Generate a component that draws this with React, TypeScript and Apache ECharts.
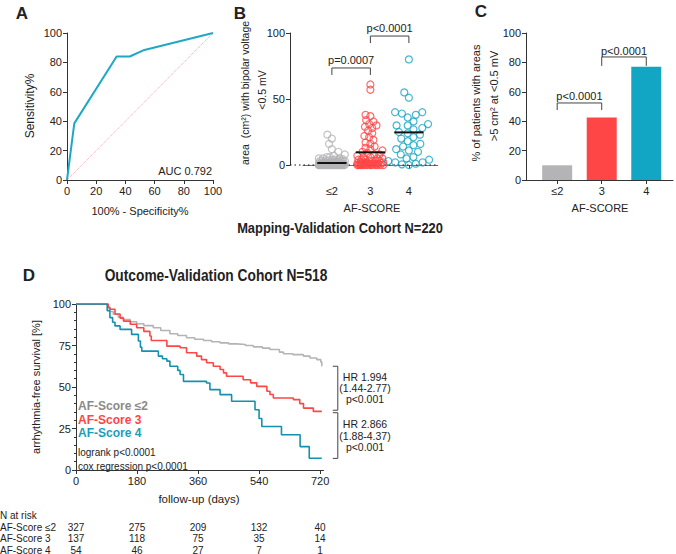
import React, { useEffect, useRef } from "react";
import * as echarts from "echarts";

const FONT = "'Liberation Sans', Arial, sans-serif";

// Panel A – ROC
const rocX = [0, 5, 34, 43, 53, 100];
const rocY = [0, 38.5, 84, 84, 88.5, 100];
const aucLabel = "AUC 0.792";

// Panel B – low-voltage area by AF-score
const scoreCategories = ["≤2", "3", "4"];
const areaScoreLow = [23, 20, 16, 12, 10, 8, 7, 6, 6, 5, 5, 5, 4.5, 4, 4, 4, 3.5, 3.5, 3, 3, 3, 3, 2.5, 2.5, 2.5, 2, 2, 2, 2, 2, 1.5, 1.5, 1.5, 1.5, 1, 1, 1, 1, 1, 1, 0.8, 0.8, 0.6, 0.5, 0.5, 0.5, 0.4, 0.3, 0.3, 0.2, 0.2, 0.1, 0, 0, 0, 0, 0, 0, 0, 0, 0, 0, 0, 0, 0, 0, 0, 0, 0, 0, 0, 0, 0, 0, 0, 0, 0, 0, 0, 0];
const areaScore3 = [61, 57, 38, 37, 34, 33, 31, 30, 29, 28, 26, 24, 22, 21, 19, 17, 16, 14, 13, 12, 11, 10, 9, 8, 8, 7, 6, 6, 5, 5, 4, 4, 4, 3, 3, 3, 3, 2, 2, 2, 2, 2, 1.5, 1.5, 1, 1, 1, 1, 1, 0.5, 0.5, 0.5, 0.5, 0, 0, 0, 0, 0, 0, 0, 0, 0, 0, 0, 0];
const areaScore4 = [80, 55, 51, 40, 40, 39, 38, 36, 33, 31, 30, 30, 28, 27, 25, 24, 23, 21, 20, 18, 16, 15, 14, 12, 11, 10, 8, 6, 5, 4, 3, 2, 2, 1, 0.5, 0];
const areaMeans = [1.5, 9.6, 24.7];
const areaPValues = ["p=0.0007", "p<0.0001"];

// Panel C – % patients with areas > 5 cm2
const pctPatients = [10, 42.5, 77];
const pctPValues = ["p<0.0001", "p<0.0001"];

// Panel D – Kaplan-Meier
const kmScoreLow = [[0, 100], [90, 100], [95, 97.5], [100, 95.5], [110, 93.8], [125, 92], [140, 90.7], [160, 89.3], [179, 88.1], [200, 87], [228, 85.7], [250, 84], [277, 82.1], [300, 81], [326, 79.7], [350, 78.8], [376, 78], [400, 77.3], [425, 76.6], [450, 76], [474, 75.6], [500, 75], [523, 74.2], [550, 73.4], [572, 72.6], [600, 71], [612, 70], [640, 69.5], [671, 68.6], [690, 67.5], [710, 66.5], [722, 65], [725, 62.5]];
const kmScore3 = [[0, 100], [88, 100], [95, 98], [100, 96.8], [115, 94], [130, 91.5], [140, 89.7], [160, 87.8], [179, 85.7], [200, 83.5], [218, 80.7], [222, 78], [268, 74.6], [307, 73.6], [326, 70.6], [356, 68.6], [370, 66.5], [385, 64.6], [405, 62.5], [425, 60.5], [435, 58.5], [444, 56.5], [493, 54.4], [515, 52.5], [533, 50.4], [563, 47.4], [572, 45.5], [582, 43.4], [641, 42.4], [660, 40], [671, 37.3], [700, 35.3], [725, 35.3]];
const kmScore4 = [[0, 100], [88, 100], [92, 96], [100, 91.8], [108, 89], [115, 86.8], [130, 84.7], [164, 81.7], [184, 77.7], [190, 74], [194, 71.6], [243, 68.6], [255, 67], [268, 65.6], [277, 62.5], [300, 60], [307, 57.5], [317, 53.4], [385, 52.4], [395, 48.4], [425, 45.4], [459, 41.4], [528, 36.3], [540, 31], [548, 26.2], [606, 21.2], [661, 14.1], [688, 7.1], [725, 7.1]];
const kmTicks = [0, 180, 360, 540, 720];
const kmLegend = ["AF-Score ≤2", "AF-Score 3", "AF-Score 4"];
const hrText1 = ["HR 1.994", "(1.44-2.77)", "p<0.001"];
const hrText2 = ["HR 2.866", "(1.88-4.37)", "p<0.001"];
const hrRanges = [[62.5, 36], [34.5, 7]];
const riskTimes = [0, 180, 360, 540, 720];
const riskScoreLow = [327, 275, 209, 132, 40];
const riskScore3 = [137, 118, 75, 35, 14];
const riskScore4 = [54, 46, 27, 7, 1];

const GRAY = "#b4b4b6";
const RED = "#ff4646";
const TEAL = "#17a5c3";
const TEAL_DARK = "#1590b0";
const AX = "#333";

// deterministic beeswarm layout (pixel offsets)
function swarm(values: number[], pxPerUnit: number, d: number, maxHalf: number): number[] {
  const order = values.map((_, i) => i).sort((a, b) => values[a] - values[b]);
  const placed: { x: number; y: number }[] = [];
  const off = new Array(values.length).fill(0);
  for (const i of order) {
    const y = values[i] * pxPerUnit;
    const near = placed.filter((p) => Math.abs(p.y - y) < d);
    const cands = [0];
    for (const p of near) {
      const dx = Math.sqrt(d * d - (p.y - y) * (p.y - y));
      cands.push(p.x + dx, p.x - dx);
    }
    cands.sort((a, b) => Math.abs(a) - Math.abs(b) || a - b);
    let chosen: number | null = null;
    for (const c of cands) {
      if (Math.abs(c) > maxHalf + 1e-6) continue;
      if (near.every((p) => (p.x - c) ** 2 + (p.y - y) ** 2 >= d * d - 1e-6)) {
        chosen = c;
        break;
      }
    }
    if (chosen === null) {
      let best = 0;
      let bestD = -1;
      for (let k = -maxHalf; k <= maxHalf; k += 1) {
        const md = Math.min(...near.map((p) => Math.hypot(p.x - k, p.y - y)));
        if (md > bestD + 1e-6) {
          bestD = md;
          best = k;
        }
      }
      chosen = best;
    }
    placed.push({ x: chosen, y });
    off[i] = chosen;
  }
  return off;
}

const axisBase = {
  axisLine: { show: true, lineStyle: { color: AX, width: 1 } },
  axisTick: { show: true, inside: false, length: 4, lineStyle: { color: AX, width: 1 } },
  axisLabel: { color: "#222", fontSize: 11, fontFamily: FONT, margin: 5 },
  splitLine: { show: false },
};

export default function App() {
  const ref = useRef<HTMLDivElement>(null);
  useEffect(() => {
    if (!ref.current) return;
    const chart = echarts.init(ref.current, null, { renderer: "svg" });

    const bPxPerUnitX = 38.5;
    const bPxPerUnitY = 1.32;
    const groups = [areaScoreLow, areaScore3, areaScore4];
    const groupColors = [GRAY, RED, TEAL];
    const maxHalves = [13, 13, 21];
    const spacing = [6, 5, 7];
    const scatterSeries = groups.map((vals, gi) => {
      const off = swarm(vals, bPxPerUnitY, spacing[gi], maxHalves[gi]);
      return {
        type: "scatter",
        xAxisIndex: 1,
        yAxisIndex: 1,
        symbol: "circle",
        symbolSize: 7,
        itemStyle: { color: "rgba(0,0,0,0)", borderColor: groupColors[gi], borderWidth: 1.2 },
        data: vals.map((v, i) => [gi + 1 + off[i] / bPxPerUnitX, v]),
        z: 3,
      };
    });
    const meanSeries = areaMeans.map((m, gi) => ({
      type: "line",
      xAxisIndex: 1,
      yAxisIndex: 1,
      symbol: "none",
      lineStyle: { color: "#111", width: 2 },
      data: [[gi + 1 - 0.38, m], [gi + 1 + 0.38, m]],
      z: 5,
    }));
    const bracket = (xi: number, yi: number, a: number, b: number, top: number, low: number) => ({
      type: "line",
      xAxisIndex: xi,
      yAxisIndex: yi,
      symbol: "none",
      lineStyle: { color: "#444", width: 1 },
      data: [[a, low], [a, top], [b, top], [b, low]],
    });

    const kmLine = (data: number[][], color: string) => ({
      type: "line",
      xAxisIndex: 3,
      yAxisIndex: 3,
      step: "end",
      symbol: "none",
      lineStyle: { color, width: 1.6 },
      data,
    });

    const option: any = {
      animation: false,
      backgroundColor: "#fff",
      grid: [
        { left: 67, top: 33, width: 146, height: 147 },
        { left: 303, top: 33, width: 134.75, height: 132 },
        { left: 526, top: 33, width: 147, height: 147 },
        { left: 76, top: 304, width: 247.5, height: 166 },
      ],
      xAxis: [
        { ...axisBase, gridIndex: 0, type: "value", min: 0, max: 100, interval: 20 },
        {
          ...axisBase,
          gridIndex: 1,
          type: "value",
          min: 0.25,
          max: 3.75,
          offset: 15,
          axisLine: { show: true, lineStyle: { color: "#777", width: 1 } },
          axisTick: { ...axisBase.axisTick, customValues: [1, 2, 3] },
          axisLabel: { ...axisBase.axisLabel, customValues: [1, 2, 3], formatter: (v: number) => scoreCategories[Math.round(v) - 1] },
        },
        {
          ...axisBase,
          gridIndex: 2,
          type: "value",
          min: 0.3,
          max: 3.6,
          axisTick: { ...axisBase.axisTick, customValues: [1, 2, 3] },
          axisLabel: { ...axisBase.axisLabel, customValues: [1, 2, 3], formatter: (v: number) => scoreCategories[Math.round(v) - 1] },
        },
        {
          ...axisBase,
          gridIndex: 3,
          type: "value",
          min: 0,
          max: 730,
          axisTick: { ...axisBase.axisTick, customValues: kmTicks },
          axisLabel: { ...axisBase.axisLabel, customValues: kmTicks },
        },
      ],
      yAxis: [
        { ...axisBase, gridIndex: 0, type: "value", min: 0, max: 100, interval: 20 },
        { ...axisBase, gridIndex: 1, type: "value", min: 0, max: 100, interval: 50, offset: 13 },
        { ...axisBase, gridIndex: 2, type: "value", min: 0, max: 100, interval: 20 },
        {
          ...axisBase,
          gridIndex: 3,
          type: "value",
          min: 0,
          max: 100,
          interval: 25,
          minorTick: { show: true, splitNumber: 5, length: 2, lineStyle: { color: AX, width: 1 } },
        },
      ],
      series: [
        {
          type: "line",
          xAxisIndex: 0,
          yAxisIndex: 0,
          symbol: "none",
          lineStyle: { color: "#ff9c9c", width: 1, type: "dotted" },
          data: [[0, 0], [100, 100]],
        },
        {
          type: "line",
          xAxisIndex: 0,
          yAxisIndex: 0,
          symbol: "none",
          lineStyle: { color: "#1fa8c6", width: 2 },
          data: rocX.map((x, i) => [x, rocY[i]]),
          z: 4,
        },
        ...scatterSeries,
        ...meanSeries,
        bracket(1, 1, 1, 2, 73.5, 68.2),
        bracket(1, 1, 2, 3, 97.7, 92.4),
        {
          type: "bar",
          xAxisIndex: 2,
          yAxisIndex: 2,
          barWidth: 30,
          data: pctPatients.map((v, i) => ({ value: [i + 1, v], itemStyle: { color: [GRAY, RED, "#12a6c4"][i] } })),
        },
        bracket(2, 2, 1, 2, 52.4, 47.6),
        bracket(2, 2, 2, 3, 83.7, 77.6),
        kmLine(kmScoreLow, GRAY),
        kmLine(kmScore3, RED),
        kmLine(kmScore4, TEAL_DARK),
      ],
    };
    chart.setOption(option);

    const px = (gi: number, x: number, y: number) =>
      chart.convertToPixel({ xAxisIndex: gi, yAxisIndex: gi }, [x, y]) as number[];

    const txt = (text: string, x: number, y: number, o: any = {}) => ({
      type: "text",
      x,
      y,
      rotation: o.rotation || 0,
      scaleX: o.scaleX || 1,
      style: {
        text,
        fill: o.fill || "#222",
        fontSize: o.size || 11,
        fontFamily: o.family || FONT,
        fontWeight: o.weight || "normal",
        align: o.align || "center",
        verticalAlign: "middle",
      },
      z: 10,
    });

    const g: any[] = [];
    // zero reference line in B, from the offset y-axis to the end of the x-axis
    const z0 = px(1, 0.25, 0);
    const z1 = px(1, 3.75, 0);
    g.push({
      type: "line",
      shape: { x1: z0[0] - 13, y1: z0[1], x2: z1[0], y2: z1[1] },
      style: { stroke: "#111", lineWidth: 1.2, lineDash: [1.5, 3] },
      z: 1,
    });
    // HR brackets in D
    hrRanges.forEach(([top, low]) => {
      const a = px(3, 725, top);
      const b = px(3, 725, low);
      const xr = a[0] + 16;
      g.push({
        type: "polyline",
        shape: { points: [[xr - 5, a[1]], [xr, a[1]], [xr, b[1]], [xr - 5, b[1]]] },
        style: { stroke: "#444", lineWidth: 1, fill: null },
        z: 10,
      });
    });
    // panel letters
    g.push(txt("A", 22, 13, { size: 17, weight: "bold" }));
    g.push(txt("B", 240, 13, { size: 17, weight: "bold" }));
    g.push(txt("C", 481, 11, { size: 17, weight: "bold" }));
    g.push(txt("D", 29, 275, { size: 17, weight: "bold" }));
    // panel A texts
    g.push(txt("Sensitivity%", 30, 106, { size: 12, rotation: Math.PI / 2 }));
    g.push(txt("100% - Specificity%", 140, 211, { size: 11 }));
    g.push(txt(aucLabel, 212, 171, { size: 11, align: "right" }));
    // panel B texts
    g.push(txt("area  (cm²) with bipolar voltage", 245, 93, { size: 10.5, rotation: Math.PI / 2 }));
    g.push(txt("<0.5 mV", 262, 90, { size: 10.5, rotation: Math.PI / 2 }));
    g.push(txt("AF-SCORE", 372, 208, { size: 11 }));
    const b1 = px(1, 1.5, 0);
    const b2 = px(1, 2.5, 0);
    g.push(txt(areaPValues[0], b1[0], 60, { size: 11 }));
    g.push(txt(areaPValues[1], b2[0], 28, { size: 11 }));
    // panel C texts
    g.push(txt("% of patients with areas", 476, 103, { size: 11, rotation: Math.PI / 2 }));
    g.push(txt(">5 cm² at <0.5 mV", 494, 96, { size: 11, rotation: Math.PI / 2 }));
    g.push(txt("AF-SCORE", 600, 208, { size: 11 }));
    const c1 = px(2, 1.5, 0);
    const c2 = px(2, 2.5, 0);
    g.push(txt(pctPValues[0], c1[0], 96, { size: 11 }));
    g.push(txt(pctPValues[1], c2[0], 51, { size: 11 }));
    // titles (condensed bold)
    g.push(txt("Mapping-Validation Cohort N=220", 340, 228, { size: 15, weight: "bold", scaleX: 0.86 }));
    g.push(txt("Outcome-Validation Cohort N=518", 216, 275, { size: 16, weight: "bold", scaleX: 0.86 }));
    // panel D texts
    g.push(txt("arrhythmia-free survival [%]", 36, 387, { size: 11, rotation: Math.PI / 2 }));
    g.push(txt("follow-up (days)", 199, 499, { size: 11.5 }));
    g.push(txt(kmLegend[0], 78, 406, { size: 12, weight: "bold", fill: "#8a8a8a", align: "left" }));
    g.push(txt(kmLegend[1], 78, 420, { size: 12, weight: "bold", fill: RED, align: "left" }));
    g.push(txt(kmLegend[2], 78, 433, { size: 12, weight: "bold", fill: "#1a9dbd", align: "left" }));
    g.push(txt("logrank p<0.0001", 78, 452, { size: 10, align: "left" }));
    g.push(txt("cox regression p<0.0001", 78, 466, { size: 10, align: "left" }));
    hrText1.forEach((s, i) => g.push(txt(s, 365, 377 + i * 11, { size: 10.5 })));
    hrText2.forEach((s, i) => g.push(txt(s, 365, 424 + i * 11.5, { size: 10.5 })));
    // risk table
    g.push(txt("N at risk", 0, 515, { size: 10, align: "left" }));
    const rowNames = ["AF-Score ≤2", "AF-Score 3", "AF-Score 4"];
    const rows = [riskScoreLow, riskScore3, riskScore4];
    rows.forEach((r, ri) => {
      const y = 527 + ri * 11.5;
      g.push(txt(rowNames[ri], 0, y, { size: 10, align: "left" }));
      r.forEach((n, ci) => {
        const p = px(3, riskTimes[ci], 0);
        g.push(txt(String(n), p[0], y, { size: 10 }));
      });
    });

    chart.setOption({ graphic: g });
    return () => chart.dispose();
  }, []);
  return (
    <div
      ref={ref}
      style={{ position: "absolute", left: 0, top: 0, width: 676, height: 554, background: "#fff" }}
    />
  );
}
